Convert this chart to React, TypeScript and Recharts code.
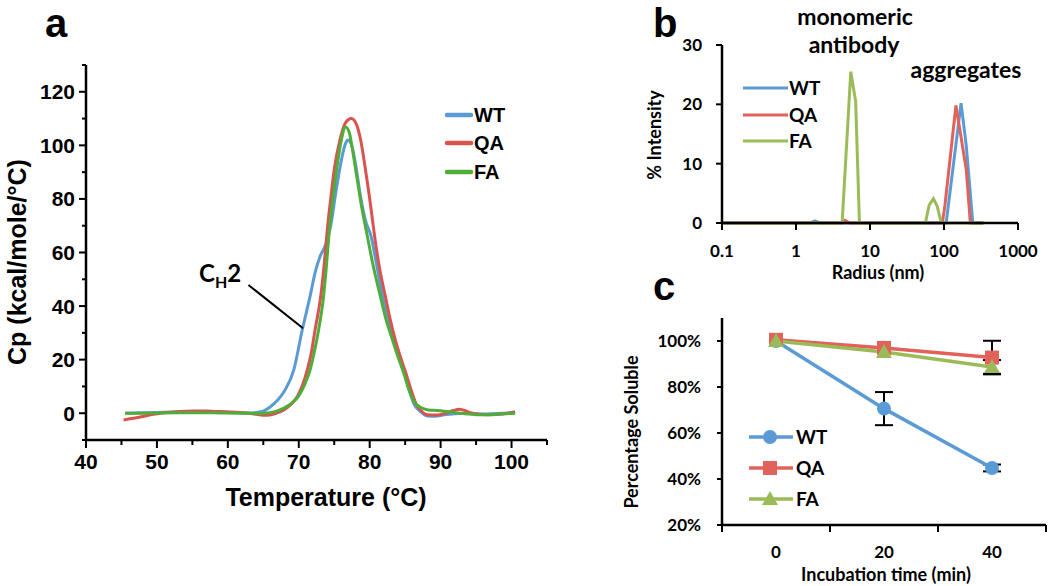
import React from "react";
import { LineChart, Line, XAxis, YAxis, ReferenceLine, ErrorBar } from "recharts";

const ARIAL = "'Liberation Sans', Arial, sans-serif";
const CAL = "Lato, 'Open Sans', sans-serif";

const BLUE_A = "#5b9bd5";
const RED_A = "#d9534f";
const GREEN_A = "#4fae3a";
const BLUE = "#5b9bd5";
const RED = "#e0625a";
const GREEN = "#9bbb59";

// a: DSC thermograms, [temperature °C, Cp kcal/mole/°C]
const dscWT: [number, number][] = [
  [45.5, 0], [47, 0.1], [49, 0.2], [51, 0.4], [53, 0.5], [56, 0.5], [59, 0.4], [61, 0.2],
  [63, 0.1], [64, 0.3], [65, 0.8], [66, 2.4], [67, 4.8], [68, 8.4], [69.3, 16.2], [70.5, 31.2],
  [71.6, 43.7], [72.3, 52.5], [73.0, 58.5], [73.8, 63], [74.5, 70], [75.2, 82], [75.9, 93],
  [76.5, 100], [76.9, 102], [77.4, 100.5], [78.0, 93], [78.7, 81], [79.4, 72], [80.2, 66],
  [80.8, 58], [81.8, 43.7], [82.6, 35], [83.4, 27.5], [84.2, 21], [84.9, 15], [85.6, 8.5],
  [86.2, 3.7], [87.2, 0.5], [88.1, -1], [89.2, -1.1], [90.5, -0.6], [92, -0.2], [93.6, 0],
  [95.5, -0.3], [98, -0.1], [100.5, 0.1],
];
const dscQA: [number, number][] = [
  [45.3, -2.5], [46.5, -2.0], [48, -1.2], [49.5, -0.4], [51, 0.2], [53, 0.6], [55, 0.8], [57, 0.8],
  [59, 0.6], [61, 0.4], [63, 0], [64.5, -0.6], [65.5, -0.8], [66.5, -0.3], [67.9, 1.2], [69, 3.5],
  [69.8, 6.2], [70.5, 10.3], [71.2, 16.2], [71.8, 23], [72.3, 31.2], [73.1, 43.7], [73.6, 56],
  [74.0, 68], [74.5, 80], [75.0, 91], [75.8, 102], [76.6, 108.5], [77.4, 110], [78.1, 108],
  [78.8, 101], [79.4, 91], [79.9, 82], [80.4, 72], [80.8, 64], [81.4, 54], [82.2, 43.7],
  [82.9, 35], [83.6, 27.5], [84.4, 20.5], [85.1, 15], [85.8, 9], [86.5, 3.7], [87.3, 0.8],
  [88.1, -0.6], [89.5, -0.7], [90.8, 0.1], [91.8, 1.0], [92.6, 1.5], [93.4, 1.0], [94.2, 0.2],
  [95.5, -0.4], [97, -0.6], [99, -0.2], [100, 0.3], [100.5, 0.6],
];
const dscFA: [number, number][] = [
  [45.5, 0], [48, 0], [50, 0.1], [53, 0.2], [56, 0.2], [59, 0.1], [62, 0], [64, -0.1], [65, 0],
  [66.5, 0.5], [67.9, 1.9], [69, 3.8], [70, 6.5], [70.8, 10.5], [71.6, 16.2], [72.2, 23],
  [72.8, 31.2], [73.5, 43.7], [73.9, 55], [74.3, 68], [74.8, 80], [75.4, 92], [76.0, 102],
  [76.6, 106.9], [77.1, 105], [77.6, 98], [78.2, 88], [78.8, 78], [79.6, 67], [80.5, 55],
  [81.5, 43.7], [82.3, 35], [83.2, 27.5], [84.0, 21], [84.8, 15], [85.5, 9], [86.1, 5],
  [86.7, 3], [87.5, 1.8], [88.3, 1.2], [89.5, 1.0], [90.9, 0.6], [92.5, 0.1], [94, -0.3],
  [95.6, -0.6], [97.5, -0.5], [99, -0.2], [100.5, 0],
];
const tempTicks = [40, 45, 50, 55, 60, 65, 70, 75, 80, 85, 90, 95, 100, 105];
const cpTicks = [-10, 0, 10, 20, 30, 40, 50, 60, 70, 80, 90, 100, 110, 120, 130];

// b: DLS size distribution, [radius nm, % intensity]
const dlsWT: [number, number][] = [
  [0.1, 0], [1.55, 0], [1.8, 0.35], [2.1, 0], [107, 0], [170, 20.2], [200, 13], [245, 0], [340, 0],
];
const dlsQA: [number, number][] = [
  [0.1, 0], [4.2, 0], [4.6, 0.45], [5.3, 0], [95, 0], [103, 3], [145, 19.8], [200, 9], [227, 0], [340, 0],
];
const dlsFA: [number, number][] = [
  [0.1, 0], [4.2, 0], [5.5, 25.5], [6.4, 20.5], [7.2, 0], [56, 0], [63, 3], [72, 4.1], [81, 2.8],
  [92, 0], [340, 0],
];
const radiusTicks = [0.1, 1, 10, 100, 1000];
const intensityTicks = [0, 10, 20, 30];

// c: solubility after incubation
const times = [0, 20, 40];
const solWT = [100, 70.6, 44.8];
const solQA = [100.5, 97, 92.8];
const solFA = [100, 95.2, 88.7];
const errWT = [0, 7.2, 1.5];
const errQA = [0, 0, 7.3];
const errFA = [0, 0, 3];
const timeTicks = [-10, 0, 10, 20, 30, 40, 50];
const solTicks = [20, 40, 60, 80, 100];

const pts = (a: [number, number][]) => a.map(([x, y]) => ({ x, y }));
const solData = times.map((t, i) => ({
  t, WT: solWT[i], QA: solQA[i], FA: solFA[i], eWT: errWT[i], eQA: errQA[i], eFA: errFA[i],
}));

const AXTick = ({ x, y, payload }: any) => {
  const v = payload.value;
  const major = v % 10 === 0 && v <= 100;
  return (
    <g>
      <line x1={x} x2={x} y1={y} y2={y + (major ? 8 : 5)} stroke="#000" strokeWidth={2} />
      {major && (
        <text x={x} y={y + 29} textAnchor="middle" fontFamily={ARIAL} fontWeight="bold" fontSize={21} fill="#000">
          {v}
        </text>
      )}
    </g>
  );
};
const AYTick = ({ x, y, payload }: any) => {
  const v = payload.value;
  const major = v % 20 === 0 && v >= 0 && v <= 120;
  return (
    <g>
      <line x1={x} x2={x - (major ? 7 : 4)} y1={y} y2={y} stroke="#000" strokeWidth={2} />
      {major && (
        <text x={x - 11} y={y + 7.5} textAnchor="end" fontFamily={ARIAL} fontWeight="bold" fontSize={21} fill="#000">
          {v}
        </text>
      )}
    </g>
  );
};
const BXTick = ({ x, y, payload }: any) => (
  <g>
    <line x1={x} x2={x} y1={y} y2={y + 7} stroke="#000" strokeWidth={2} />
    <text x={x} y={y + 34} textAnchor="middle" fontFamily={CAL} fontWeight="bold" fontSize={17} fill="#000">
      {String(payload.value)}
    </text>
  </g>
);
const BYTick = ({ x, y, payload }: any) => (
  <g>
    <line x1={x} x2={x - 6} y1={y} y2={y} stroke="#000" strokeWidth={2} />
    <text x={x - 20} y={y + 6} textAnchor="end" fontFamily={CAL} fontWeight="bold" fontSize={17} fill="#000">
      {payload.value}
    </text>
  </g>
);
const CXTick = ({ x, y, payload }: any) => {
  const v = payload.value;
  const labelled = v % 20 === 0;
  return (
    <g>
      {!labelled && <line x1={x} x2={x} y1={y} y2={y + 7} stroke="#000" strokeWidth={2} />}
      {labelled && (
        <text x={x} y={y + 33} textAnchor="middle" fontFamily={CAL} fontWeight="bold" fontSize={17} fill="#000">
          {v}
        </text>
      )}
    </g>
  );
};
const CYTick = ({ x, y, payload }: any) => (
  <g>
    <line x1={x} x2={x - 5} y1={y} y2={y} stroke="#000" strokeWidth={2} />
    <text x={x - 21} y={y + 6} textAnchor="end" fontFamily={CAL} fontWeight="bold" fontSize={17} fill="#000">
      {payload.value + "%"}
    </text>
  </g>
);

const Circle = ({ cx, cy, fill }: any) => <circle cx={cx} cy={cy} r={7} fill={fill} />;
const Square = ({ cx, cy, fill }: any) => <rect x={cx - 7} y={cy - 7} width={14} height={14} fill={fill} />;
const Tri = ({ cx, cy, fill }: any) => (
  <polygon points={`${cx},${cy - 8} ${cx + 8},${cy + 6} ${cx - 8},${cy + 6}`} fill={fill} />
);

const axisLine = { stroke: "#000", strokeWidth: 2.5 };

export default function App() {
  return (
    <div style={{ position: "absolute", left: 0, top: 0, width: 1050, height: 586, background: "#fff" }}>
      <div style={{ position: "absolute", left: 0, top: 0 }}>
        <LineChart width={560} height={520} margin={{ top: 65, right: 13, bottom: 0, left: 0 }}>
          <XAxis dataKey="x" type="number" domain={[40, 105]} ticks={tempTicks} interval={0}
            tick={AXTick} tickLine={false} tickSize={0} tickMargin={0} height={80} axisLine={axisLine} />
          <YAxis type="number" domain={[-10, 130]} ticks={cpTicks} interval={0}
            tick={AYTick} tickLine={false} tickSize={0} tickMargin={0} width={86} axisLine={axisLine} />
          <Line data={pts(dscWT)} dataKey="y" type="monotone" stroke={BLUE_A} strokeWidth={3} dot={false} isAnimationActive={false} />
          <Line data={pts(dscQA)} dataKey="y" type="monotone" stroke={RED_A} strokeWidth={3} dot={false} isAnimationActive={false} />
          <Line data={pts(dscFA)} dataKey="y" type="monotone" stroke={GREEN_A} strokeWidth={3} dot={false} isAnimationActive={false} />
          <ReferenceLine segment={[{ x: 62.9, y: 47.9 }, { x: 70.6, y: 31.7 }]} stroke="#000" strokeWidth={2} />
        </LineChart>
      </div>

      <div style={{ position: "absolute", left: 560, top: 0 }}>
        <LineChart width={490} height={290} margin={{ top: 45, right: 32, bottom: 0, left: 0 }}>
          <XAxis dataKey="x" type="number" scale="log" domain={[0.1, 1000]} ticks={radiusTicks} interval={0}
            allowDataOverflow tick={BXTick} tickLine={false} tickSize={0} tickMargin={0} height={67} axisLine={axisLine} />
          <YAxis type="number" domain={[0, 30]} ticks={intensityTicks} interval={0}
            tick={BYTick} tickLine={false} tickSize={0} tickMargin={0} width={162} axisLine={axisLine} />
          <Line data={pts(dlsWT)} dataKey="y" type="linear" stroke={BLUE} strokeWidth={3} dot={false} isAnimationActive={false} />
          <Line data={pts(dlsQA)} dataKey="y" type="linear" stroke={RED} strokeWidth={3} dot={false} isAnimationActive={false} />
          <Line data={pts(dlsFA)} dataKey="y" type="linear" stroke={GREEN} strokeWidth={3} dot={false} isAnimationActive={false} />
        </LineChart>
      </div>

      <div style={{ position: "absolute", left: 560, top: 300 }}>
        <LineChart width={490} height={286} data={solData} margin={{ top: 18, right: 4, bottom: 0, left: 0 }}>
          <XAxis dataKey="t" type="number" domain={[-10, 50]} ticks={timeTicks} interval={0}
            tick={CXTick} tickLine={false} tickSize={0} tickMargin={0} height={61} axisLine={axisLine} />
          <YAxis type="number" domain={[20, 110]} ticks={solTicks} interval={0}
            tick={CYTick} tickLine={false} tickSize={0} tickMargin={0} width={162} axisLine={axisLine} />
          <Line dataKey="WT" type="linear" stroke={BLUE} strokeWidth={3.5} dot={<Circle fill={BLUE} />} isAnimationActive={false}>
            <ErrorBar dataKey="eWT" direction="y" width={9} stroke="#000" strokeWidth={2} />
          </Line>
          <Line dataKey="QA" type="linear" stroke={RED} strokeWidth={3.5} dot={<Square fill={RED} />} isAnimationActive={false}>
            <ErrorBar dataKey="eQA" direction="y" width={9} stroke="#000" strokeWidth={2} />
          </Line>
          <Line dataKey="FA" type="linear" stroke={GREEN} strokeWidth={3.5} dot={<Tri fill={GREEN} />} isAnimationActive={false}>
            <ErrorBar dataKey="eFA" direction="y" width={9} stroke="#000" strokeWidth={2} />
          </Line>
        </LineChart>
      </div>

      <svg width={1050} height={586} style={{ position: "absolute", left: 0, top: 0, pointerEvents: "none" }}>
        {/* panel a */}
        <text x={45} y={37} fontFamily={ARIAL} fontWeight="bold" fontSize={40}>a</text>
        <text transform="translate(26,262) rotate(-90)" textAnchor="middle" fontFamily={ARIAL} fontWeight="bold" fontSize={25}>
          Cp (kcal/mole/°C)
        </text>
        <text x={326} y={506} textAnchor="middle" fontFamily={ARIAL} fontWeight="bold" fontSize={25}>Temperature (°C)</text>
        {[["WT", BLUE_A, 115], ["QA", RED_A, 143], ["FA", GREEN_A, 172]].map(([n, c, y]) => (
          <g key={n as string}>
            <line x1={447} x2={471} y1={y as number} y2={y as number} stroke={c as string} strokeWidth={4.5} strokeLinecap="round" />
            <text x={474} y={(y as number) + 7} fontFamily={ARIAL} fontWeight="bold" fontSize={20}>{n}</text>
          </g>
        ))}
        <text x={199} y={282} fontFamily={CAL} fontWeight="bold" fontSize={24}>
          C<tspan fontSize={16} dy={6}>H</tspan><tspan dy={-6}>2</tspan>
        </text>

        {/* panel b */}
        <text x={653} y={37} fontFamily={ARIAL} fontWeight="bold" fontSize={40}>b</text>
        <text x={855} y={25} textAnchor="middle" fontFamily={CAL} fontWeight="bold" fontSize={23}>monomeric</text>
        <text x={854} y={53} textAnchor="middle" fontFamily={CAL} fontWeight="bold" fontSize={23}>antibody</text>
        <text x={966} y={78} textAnchor="middle" fontFamily={CAL} fontWeight="bold" fontSize={23}>aggregates</text>
        <text transform="translate(661,135) rotate(-90)" textAnchor="middle" fontFamily={CAL} fontWeight="bold" fontSize={18}>
          % Intensity
        </text>
        <text x={878} y={279} textAnchor="middle" fontFamily={CAL} fontWeight="bold" fontSize={18}>Radius (nm)</text>
        {[["WT", BLUE, 88], ["QA", RED, 115], ["FA", GREEN, 141]].map(([n, c, y]) => (
          <g key={"b" + n}>
            <line x1={743} x2={788} y1={y as number} y2={y as number} stroke={c as string} strokeWidth={3} />
            <text x={789} y={(y as number) + 7} fontFamily={CAL} fontWeight="bold" fontSize={19}>{n}</text>
          </g>
        ))}

        {/* panel c */}
        <text x={653} y={300} fontFamily={ARIAL} fontWeight="bold" fontSize={40}>c</text>
        <text transform="translate(638,432) rotate(-90)" textAnchor="middle" fontFamily={CAL} fontWeight="bold" fontSize={18}>
          Percentage Soluble
        </text>
        <text x={886} y={581} textAnchor="middle" fontFamily={CAL} fontWeight="bold" fontSize={18}>Incubation time (min)</text>
        <line x1={749} x2={793} y1={437} y2={437} stroke={BLUE} strokeWidth={3.5} />
        <circle cx={770} cy={437} r={7} fill={BLUE} />
        <text x={796} y={444} fontFamily={CAL} fontWeight="bold" fontSize={19}>WT</text>
        <line x1={749} x2={793} y1={468} y2={468} stroke={RED} strokeWidth={3.5} />
        <rect x={763} y={461} width={14} height={14} fill={RED} />
        <text x={796} y={475} fontFamily={CAL} fontWeight="bold" fontSize={19}>QA</text>
        <line x1={749} x2={793} y1={499} y2={499} stroke={GREEN} strokeWidth={3.5} />
        <polygon points="770,491 778,505 762,505" fill={GREEN} />
        <text x={796} y={506} fontFamily={CAL} fontWeight="bold" fontSize={19}>FA</text>
      </svg>
    </div>
  );
}
